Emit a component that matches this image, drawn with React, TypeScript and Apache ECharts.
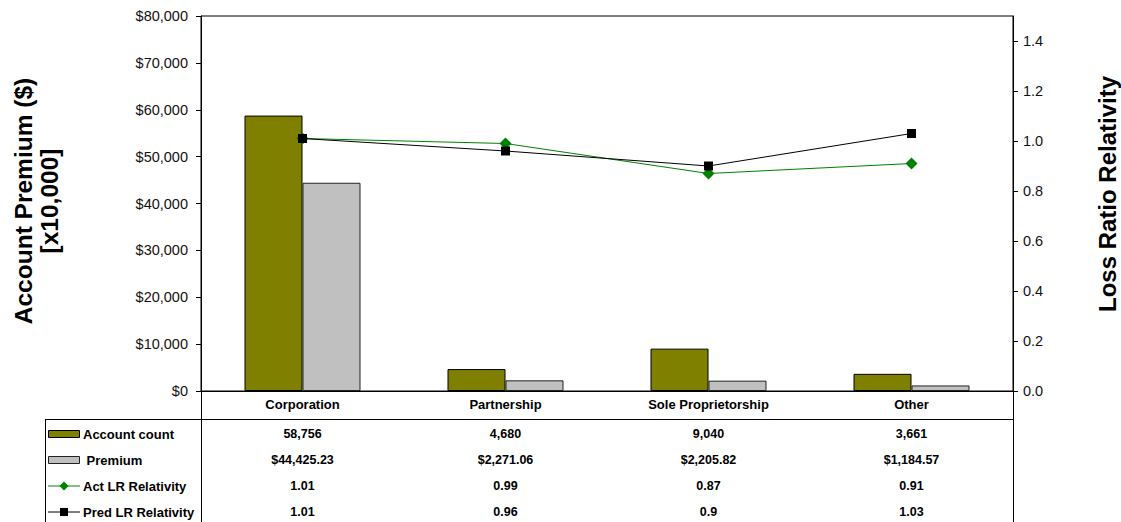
import { useEffect, useRef } from 'react';
import * as echarts from 'echarts';

const categories = ['Corporation', 'Partnership', 'Sole Proprietorship', 'Other'];
const accountCount = [58756, 4680, 9040, 3661];
const premium = [44425.23, 2271.06, 2205.82, 1184.57];
const actLR = [1.01, 0.99, 0.87, 0.91];
const predLR = [1.01, 0.96, 0.9, 1.03];
const rightTicks = [0, 0.2, 0.4, 0.6, 0.8, 1.0, 1.2, 1.4];
const rowLabels = ['Account count', ' Premium', 'Act LR Relativity', 'Pred LR Relativity'];

const FONT = '"Liberation Sans", Arial, sans-serif';
const OLIVE = '#808000';
const GREY = '#C0C0C0';
const GREEN = '#008000';

const fmtCount = (v: number) => v.toLocaleString('en-US');
const fmtMoney = (v: number) =>
  '$' + v.toLocaleString('en-US', { minimumFractionDigits: 2, maximumFractionDigits: 2 });
const fmtRatio = (v: number) => String(v);

export default function App() {
  const ref = useRef<HTMLDivElement>(null);
  useEffect(() => {
    if (!ref.current) return;
    const chart = echarts.init(ref.current, undefined, { renderer: 'svg' });
    const GRID_LEFT = 201;
    const GRID_RIGHT = 1013;
    const GRID_TOP = 16;
    const GRID_BOTTOM = 391;
    chart.setOption({
      animation: false,
      backgroundColor: '#fff',
      textStyle: { fontFamily: FONT },
      grid: {
        left: GRID_LEFT,
        top: GRID_TOP,
        width: GRID_RIGHT - GRID_LEFT,
        height: GRID_BOTTOM - GRID_TOP,
        show: true,
        borderColor: '#000',
        borderWidth: 1,
        backgroundColor: 'transparent',
      },
      xAxis: {
        type: 'category',
        data: categories,
        axisLine: { show: true, lineStyle: { color: '#000', width: 1 } },
        axisTick: { show: false },
        axisLabel: {
          color: '#000',
          fontWeight: 'bold',
          fontSize: 13,
          fontFamily: FONT,
          margin: 7,
        },
        splitLine: { show: false },
      },
      yAxis: [
        {
          type: 'value',
          min: 0,
          max: 80000,
          interval: 10000,
          axisLine: { show: true, lineStyle: { color: '#000', width: 1 } },
          axisTick: { show: true, length: 5, lineStyle: { color: '#000' } },
          axisLabel: {
            color: '#111',
            fontSize: 14.5,
            fontFamily: FONT,
            margin: 13,
            formatter: (v: number) => '$' + v.toLocaleString('en-US'),
          },
          splitLine: { show: false },
        },
        {
          type: 'value',
          min: 0,
          max: 1.5,
          axisLine: { show: true, lineStyle: { color: '#000', width: 1 } },
          axisTick: { show: true, length: 5, lineStyle: { color: '#000' }, customValues: rightTicks },
          axisLabel: {
            color: '#111',
            fontSize: 14.5,
            fontFamily: FONT,
            margin: 10,
            customValues: rightTicks,
            formatter: (v: number) => v.toFixed(1),
          },
          splitLine: { show: false },
        },
      ],
      series: [
        {
          name: 'Account count',
          type: 'bar',
          yAxisIndex: 0,
          data: accountCount,
          barWidth: 58,
          barGap: '0%',
          itemStyle: { color: OLIVE, borderColor: '#000', borderWidth: 1 },
          z: 2,
        },
        {
          name: 'Premium',
          type: 'bar',
          yAxisIndex: 0,
          data: premium,
          barWidth: 58,
          barGap: '0%',
          itemStyle: { color: GREY, borderColor: '#222', borderWidth: 1 },
          z: 2,
        },
        {
          name: 'Act LR Relativity',
          type: 'line',
          yAxisIndex: 1,
          data: actLR,
          symbol: 'diamond',
          symbolSize: 12,
          lineStyle: { color: GREEN, width: 1 },
          itemStyle: { color: GREEN },
          z: 3,
        },
        {
          name: 'Pred LR Relativity',
          type: 'line',
          yAxisIndex: 1,
          data: predLR,
          symbol: 'rect',
          symbolSize: 9,
          lineStyle: { color: '#000', width: 1 },
          itemStyle: { color: '#000' },
          z: 4,
        },
      ],
    });

    const xs = categories.map((c) => chart.convertToPixel({ xAxisIndex: 0 }, c) as number);
    const rowY = [434, 460, 486, 512];
    const rowValues = [
      accountCount.map(fmtCount),
      premium.map(fmtMoney),
      actLR.map(fmtRatio),
      predLR.map(fmtRatio),
    ];
    const lineStyle = { stroke: '#000', lineWidth: 1 };
    const graphics: any[] = [];
    // table grid
    graphics.push({ type: 'line', shape: { x1: 45, y1: 419.5, x2: GRID_RIGHT, y2: 419.5 }, style: lineStyle, silent: true });
    graphics.push({ type: 'line', shape: { x1: 45.5, y1: 419, x2: 45.5, y2: 522 }, style: lineStyle, silent: true });
    graphics.push({ type: 'line', shape: { x1: GRID_LEFT + 0.5, y1: GRID_BOTTOM, x2: GRID_LEFT + 0.5, y2: 522 }, style: lineStyle, silent: true });
    graphics.push({ type: 'line', shape: { x1: GRID_RIGHT + 0.5, y1: GRID_BOTTOM, x2: GRID_RIGHT + 0.5, y2: 522 }, style: lineStyle, silent: true });
    // legend keys
    graphics.push({ type: 'rect', shape: { x: 48.5, y: 430.5, width: 31, height: 7 }, style: { fill: OLIVE, stroke: '#000', lineWidth: 1 }, silent: true });
    graphics.push({ type: 'rect', shape: { x: 48.5, y: 456.5, width: 31, height: 7 }, style: { fill: GREY, stroke: '#222', lineWidth: 1 }, silent: true });
    graphics.push({ type: 'line', shape: { x1: 48, y1: rowY[2], x2: 80, y2: rowY[2] }, style: { stroke: GREEN, lineWidth: 1 }, silent: true });
    graphics.push({
      type: 'polygon',
      shape: { points: [[64, rowY[2] - 4.5], [68.5, rowY[2]], [64, rowY[2] + 4.5], [59.5, rowY[2]]] },
      style: { fill: GREEN },
      silent: true,
    });
    graphics.push({ type: 'line', shape: { x1: 48, y1: rowY[3], x2: 80, y2: rowY[3] }, style: { stroke: '#000', lineWidth: 1 }, silent: true });
    graphics.push({ type: 'rect', shape: { x: 60, y: rowY[3] - 4, width: 8, height: 8 }, style: { fill: '#000' }, silent: true });
    // row labels and values
    rowLabels.forEach((lab, i) => {
      graphics.push({
        type: 'text',
        x: 83,
        y: rowY[i],
        silent: true,
        style: { text: lab, fill: '#000', font: `bold 13px ${FONT}`, textAlign: 'left', textVerticalAlign: 'middle' },
      });
      rowValues[i].forEach((val, j) => {
        graphics.push({
          type: 'text',
          x: xs[j],
          y: rowY[i],
          silent: true,
          style: { text: val, fill: '#000', font: `bold 12.5px ${FONT}`, textAlign: 'center', textVerticalAlign: 'middle' },
        });
      });
    });
    // axis titles
    graphics.push({
      type: 'text', x: 23, y: 201, rotation: Math.PI / 2, silent: true,
      style: { text: 'Account Premium ($)', fill: '#000', font: `bold 24.5px ${FONT}`, textAlign: 'center', textVerticalAlign: 'middle' },
    });
    graphics.push({
      type: 'text', x: 49, y: 201, rotation: Math.PI / 2, silent: true,
      style: { text: '[x10,000]', fill: '#000', font: `bold 24.5px ${FONT}`, textAlign: 'center', textVerticalAlign: 'middle' },
    });
    graphics.push({
      type: 'text', x: 1107, y: 194, rotation: Math.PI / 2, silent: true,
      style: { text: 'Loss Ratio Relativity', fill: '#000', font: `bold 24px ${FONT}`, textAlign: 'center', textVerticalAlign: 'middle' },
    });
    chart.setOption({ graphic: graphics });

    return () => chart.dispose();
  }, []);
  return (
    <div
      ref={ref}
      style={{ position: 'absolute', left: 0, top: 0, width: 1121, height: 522, background: '#fff' }}
    />
  );
}
